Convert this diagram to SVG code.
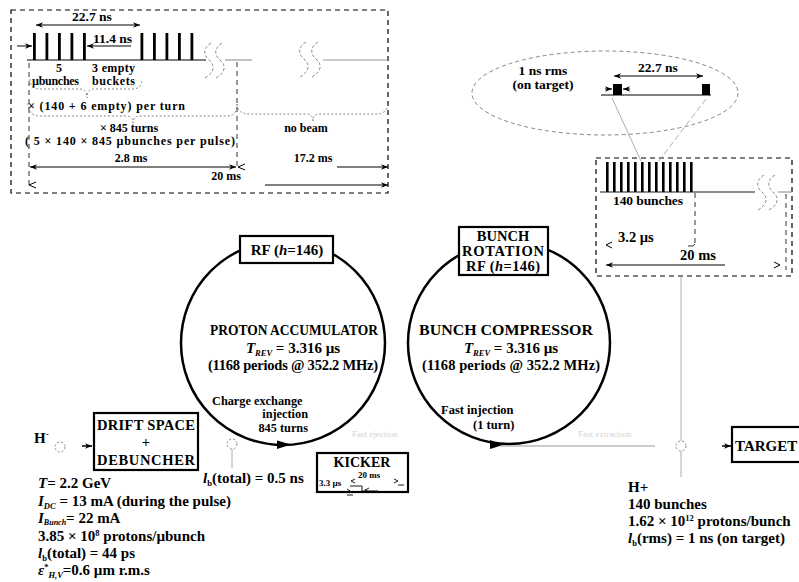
<svg xmlns="http://www.w3.org/2000/svg" width="799" height="582" viewBox="0 0 799 582">
<defs>
<marker id="ah" markerUnits="userSpaceOnUse" markerWidth="8" markerHeight="6" refX="7" refY="3" orient="auto-start-reverse"><path d="M0,0.3 L7,3 L0,5.7 L2,3z" fill="#000"/></marker>
<style>
text{font-family:"Liberation Serif","Times New Roman",serif;font-weight:bold;fill:#000}
.s12{font-size:12px}.s13{font-size:13.5px}.s14{font-size:14.5px}.s15{font-size:15px}.p{font-size:15px}
.c{text-anchor:middle}.e{text-anchor:end}
.it{font-style:italic}
.box{fill:#fff;stroke:#000;stroke-width:2.2}
.ring{fill:none;stroke:#000;stroke-width:2.5}
.dash{fill:none;stroke:#000;stroke-width:1.2;stroke-dasharray:5,4}
.vd{fill:none;stroke:#333;stroke-width:1;stroke-dasharray:5,4}
.br{fill:none;stroke:#777;stroke-width:0.9;stroke-dasharray:2,2}
.dim{fill:none;stroke:#000;stroke-width:1}
.grey{fill:none;stroke:#999;stroke-width:1.2}
.thin{fill:none;stroke:#999;stroke-width:0.8}
.sq{fill:none;stroke:#888;stroke-width:1;stroke-dasharray:3,2}
.sm{fill:#fff;stroke:#888;stroke-width:1;stroke-dasharray:2,2}
.faint{font-size:9px;font-weight:normal;fill:#d4d4d4}
</style>
</defs>

<!-- Top-left timing diagram -->
<g id="timing-linac">
<rect class="dash" x="11" y="10" width="377" height="183"/>
<g fill="#000">
<rect x="33" y="33" width="2.8" height="27"/><rect x="45.5" y="33" width="2.8" height="27"/><rect x="58" y="33" width="2.8" height="27"/><rect x="70.5" y="33" width="2.8" height="27"/><rect x="83" y="33" width="2.8" height="27"/>
<rect x="140.5" y="33" width="2.8" height="27"/><rect x="153" y="33" width="2.8" height="27"/><rect x="165.5" y="33" width="2.8" height="27"/><rect x="178" y="33" width="2.8" height="27"/><rect x="190.5" y="33" width="2.8" height="27"/>
</g>
<line x1="27" y1="60" x2="206" y2="60" stroke="#000" stroke-width="1"/>
<path class="sq" d="M211,43 C203,48 203,55 209,60 C215,65 215,72 205,78 M222,43 C214,48 214,55 220,60 C226,65 226,72 216,78"/>
<line class="grey" x1="225" y1="60" x2="252" y2="60"/>
<path class="sq" d="M306,42 C298,47 298,54 304,59 C310,64 310,71 300,77 M318,42 C310,47 310,54 316,59 C322,64 322,71 312,77"/>
<line class="grey" x1="323" y1="60" x2="388" y2="60"/>
<line class="dim" x1="36" y1="25" x2="140" y2="25" marker-start="url(#ah)" marker-end="url(#ah)"/>
<text class="s13 c" x="92" y="21">22.7 ns</text>
<line class="dim" x1="131" y1="46" x2="87" y2="46" marker-end="url(#ah)"/>
<text class="s13" x="93" y="43">11.4 ns</text>
<line class="dim" x1="17" y1="46" x2="32" y2="46" marker-end="url(#ah)"/>
<text class="s12 c" x="59" y="72">5</text>
<text class="s12" x="32" y="85" textLength="47">µbunches</text>
<text class="s12" x="92" y="72" textLength="43">3 empty</text>
<text class="s12" x="92" y="85" textLength="43">buckets</text>
<path class="br" d="M30,79 Q30,89 40,89 L80,89 Q87,89 87,98 Q87,89 94,89 L132,89 Q142,89 142,79"/>
<line class="vd" x1="29" y1="63" x2="29" y2="188"/>
<line class="vd" x1="237" y1="62" x2="237" y2="170"/>
<text class="s12" x="28" y="110" textLength="157">× (140 + 6 empty) per turn</text>
<path class="br" d="M28,103 Q28,116 40,116 L126,116 Q133,116 133,123 Q133,116 140,116 L227,116 Q237,116 237,104"/>
<path class="br" d="M237,104 Q237,114 250,114 L306,114 Q313,114 313,121 Q313,114 320,114 L376,114 Q388,114 388,102"/>
<text class="s12 c" x="129" y="132">× 845 turns</text>
<text class="s12" x="25" y="145" textLength="210">( 5 × 140 × 845 µbunches per pulse)</text>
<text class="s12 c" x="306" y="132">no beam</text>
<text class="s12 c" x="131" y="162">2.8 ms</text>
<line class="dim" x1="30" y1="167" x2="236" y2="167" marker-start="url(#ah)" marker-end="url(#ah)"/>
<path d="M245,164 L238,167 L245,170" fill="none" stroke="#000" stroke-width="1"/>
<text class="s12 c" x="313" y="162">17.2 ms</text>
<line class="dim" x1="337" y1="167" x2="388" y2="167" marker-end="url(#ah)"/>
<text class="s12 c" x="226" y="180">20 ms</text>
<path d="M36,182 L29,185 L36,188" fill="none" stroke="#000" stroke-width="1"/>
<line class="dim" x1="265" y1="185" x2="388" y2="185" marker-end="url(#ah)"/>
</g>

<!-- Zoomed bunch ellipse -->
<g id="bunch-detail">
<ellipse cx="605" cy="93" rx="133" ry="42" fill="none" stroke="#777" stroke-width="0.9" stroke-dasharray="4,3"/>
<text class="s13 c" x="543" y="75">1 ns rms</text>
<text class="s13 c" x="543" y="89">(on target)</text>
<text class="s13 c" x="658" y="72">22.7 ns</text>
<line class="dim" x1="614" y1="76" x2="703" y2="76" marker-start="url(#ah)" marker-end="url(#ah)"/>
<line x1="601" y1="95" x2="711" y2="95" stroke="#000" stroke-width="1"/>
<rect x="613" y="84" width="9" height="11" fill="#000"/>
<rect x="702" y="84" width="8" height="11" fill="#000"/>
<line class="dim" x1="605" y1="89" x2="612" y2="89" marker-end="url(#ah)"/>
<line class="dim" x1="630" y1="89" x2="623" y2="89" marker-end="url(#ah)"/>
</g>

<!-- Lower right timing -->
<g id="timing-target">
<rect class="dash" x="596" y="158" width="196" height="118"/>
<g fill="#000">
<rect x="606" y="162" width="2.6" height="30"/><rect x="613" y="162" width="2.6" height="30"/><rect x="620" y="162" width="2.6" height="30"/><rect x="627" y="162" width="2.6" height="30"/><rect x="634" y="162" width="2.6" height="30"/><rect x="641" y="162" width="2.6" height="30"/><rect x="648" y="162" width="2.6" height="30"/><rect x="655" y="162" width="2.6" height="30"/><rect x="662" y="162" width="2.6" height="30"/><rect x="669" y="162" width="2.6" height="30"/><rect x="676" y="162" width="2.6" height="30"/><rect x="683" y="162" width="2.6" height="30"/><rect x="690" y="162" width="2.6" height="30"/>
</g>
<line x1="600" y1="192" x2="755" y2="192" stroke="#000" stroke-width="0.9"/>
<path class="sq" d="M764,175 C756,180 756,187 762,192 C768,197 768,204 758,210 M775,175 C767,180 767,187 773,192 C779,197 779,204 769,210"/>
<line class="grey" x1="778" y1="192" x2="792" y2="192"/>
<text class="s13" x="613" y="205" textLength="70">140 bunches</text>
<line class="vd" x1="695" y1="193" x2="695" y2="244"/>
<path d="M695,244 L693,246 L688,246" fill="none" stroke="#333" stroke-width="1"/>
<text class="s14" x="618" y="242">3.2 µs</text>
<path d="M612,242 L606,245 L612,248" fill="none" stroke="#000" stroke-width="1"/>
<text class="s14" x="680" y="260">20 ms</text>
<line class="dim" x1="606" y1="265" x2="725" y2="265" marker-start="url(#ah)"/>
<path d="M774,262 L780,265 L774,268" fill="none" stroke="#000" stroke-width="1"/>
<line class="vd" x1="786" y1="194" x2="786" y2="270"/>
</g>

<!-- Accumulator -->
<g id="accumulator">
<circle class="ring" cx="283" cy="343" r="102"/>
<path d="M277,440.5 L291,444.5 L277,449 z" fill="#000"/>
<text class="s14 c" x="294" y="335" textLength="168" lengthAdjust="spacingAndGlyphs">PROTON ACCUMULATOR</text>
<text class="s15 c" x="293" y="353"><tspan class="it">T</tspan><tspan class="it" font-size="8.5" dy="3">REV</tspan><tspan dy="-3"> = 3.316 µs</tspan></text>
<text class="s14 c" x="293" y="370" textLength="170">(1168 periods @ 352.2 MHz)</text>
<text x="212" y="405" font-size="12.3px">Charge exchange</text>
<text class="e" x="308" y="418" font-size="12.3px">injection</text>
<text class="e" x="308" y="432" font-size="12.3px">845 turns</text>
</g>
<g id="rf-accumulator">
<rect class="box" x="240" y="236" width="93" height="27"/>
<text class="s15 c" x="287" y="255">RF (<tspan class="it">h</tspan>=146)</text>
</g>

<!-- Compressor -->
<g id="compressor">
<circle class="ring" cx="509" cy="343" r="101"/>
<path d="M490,440 L503,445 L490,449 z" fill="#000"/>
<text class="s14 c" x="506" y="335" textLength="174" lengthAdjust="spacingAndGlyphs">BUNCH COMPRESSOR</text>
<text class="s15 c" x="511" y="353"><tspan class="it">T</tspan><tspan class="it" font-size="8.5" dy="3">REV</tspan><tspan dy="-3"> = 3.316 µs</tspan></text>
<text class="s14 c" x="511" y="370" textLength="178">(1168 periods @ 352.2 MHz)</text>
<text x="441" y="414" font-size="12.5px">Fast injection</text>
<text x="473" y="429" font-size="12.5px">(1 turn)</text>
</g>
<g id="rf-rotation">
<rect class="box" x="459" y="227" width="89" height="48"/>
<text class="s14 c" x="503" y="241">BUNCH</text>
<text class="s14 c" x="503" y="256" textLength="82">ROTATION</text>
<text class="s14 c" x="503" y="271" textLength="74">RF (<tspan class="it">h</tspan>=146)</text>
</g>

<!-- Drift space -->
<g id="drift">
<rect class="box" x="94" y="413" width="104" height="57"/>
<text class="s14 c" x="146" y="430" textLength="98">DRIFT SPACE</text>
<text class="s14 c" x="146" y="447">+</text>
<text class="s14 c" x="146" y="465" textLength="98">DEBUNCHER</text>
</g>

<g id="source">
<text class="p" x="34" y="443">H<tspan font-size="9" dy="-6">-</tspan></text>
<circle class="sm" cx="60" cy="447" r="5"/>
</g>

<g id="kicker">
<rect class="box" x="317" y="453" width="91" height="39"/>
<text class="c" x="362" y="467" font-size="14px">KICKER</text>
<text x="358" y="478" font-size="9">20 ms</text>
<text x="319" y="486" font-size="9">3.3 µs</text>
<path d="M355,479 L351,481 L355,483 M394,479 L398,481 L394,483 M398,485 H404 M350,486 H362 V491 H378 M347,489 L350,491 L347,493 M347,495 H353 M369,488 L365,490 L369,492" fill="none" stroke="#000" stroke-width="0.9"/>
</g>

<g id="target">
<rect class="box" x="732" y="427" width="80" height="35"/>
<text class="s15" x="735" y="451">TARGET</text>
</g>

<g id="params-left">
<text class="p" x="38" y="488"><tspan class="it">T</tspan>= 2.2 GeV</text>
<text class="p" x="38" y="506"><tspan class="it">I</tspan><tspan class="it" font-size="8.5" dy="2.5">DC</tspan><tspan dy="-2.5">  = 13 mA (during the pulse)</tspan></text>
<text class="p" x="38" y="523"><tspan class="it">I</tspan><tspan class="it" font-size="8" dy="2">Bunch</tspan><tspan dy="-2">= 22 mA</tspan></text>
<text class="p" x="38" y="541">3.85 × 10<tspan font-size="8.5" dy="-5">8</tspan><tspan dy="5"> protons/µbunch</tspan></text>
<text class="p" x="38" y="558"><tspan class="it">l</tspan><tspan font-size="8.5" dy="2.5">b</tspan><tspan dy="-2.5">(total) = 44 ps</tspan></text>
<text class="p" x="38" y="575"><tspan class="it">ε</tspan><tspan font-size="8.5" dy="-5">*</tspan><tspan class="it" font-size="8.5" dy="7.5">H,V</tspan><tspan dy="-2.5">=0.6 µm r.m.s</tspan></text>
</g>

<g id="bunch-length">
<circle class="sm" cx="232" cy="444" r="5"/>
<text class="p" x="203" y="483"><tspan class="it">l</tspan><tspan font-size="8.5" dy="3">b</tspan><tspan dy="-3">(total) = 0.5 ns</tspan></text>
</g>

<g id="params-right">
<circle class="sm" cx="681" cy="446" r="5"/>
<text class="s15" x="628" y="492">H+</text>
<text class="s15" x="628" y="509">140 bunches</text>
<text class="s15" x="628" y="526">1.62 × 10<tspan font-size="8.5" dy="-5">12</tspan><tspan dy="5"> protons/bunch</tspan></text>
<text class="s15" x="628" y="543"><tspan class="it">l</tspan><tspan font-size="8.5" dy="3">b</tspan><tspan dy="-3">(rms) = 1 ns (on target)</tspan></text>
</g>

<g id="connectors">
<path d="M82,446 H92" stroke="#000" stroke-width="1.5" marker-end="url(#ah)"/>
<path d="M722,446 H731" stroke="#000" stroke-width="1.5" marker-end="url(#ah)"/>
<line class="thin" x1="232" y1="449" x2="232" y2="468"/>
<line class="grey" x1="500" y1="446" x2="655" y2="446"/>
<line class="thin" x1="681" y1="276" x2="681" y2="441"/>
<line class="thin" x1="681" y1="451" x2="681" y2="477"/>
<line class="thin" x1="612" y1="98" x2="641" y2="161"/>
<line class="thin" x1="706" y1="99" x2="658" y2="162" stroke-dasharray="6,3"/>
<text class="faint" x="352" y="437">Fast ejection</text>
<text class="faint" x="578" y="437">Fast extraction</text>
</g>
</svg>
